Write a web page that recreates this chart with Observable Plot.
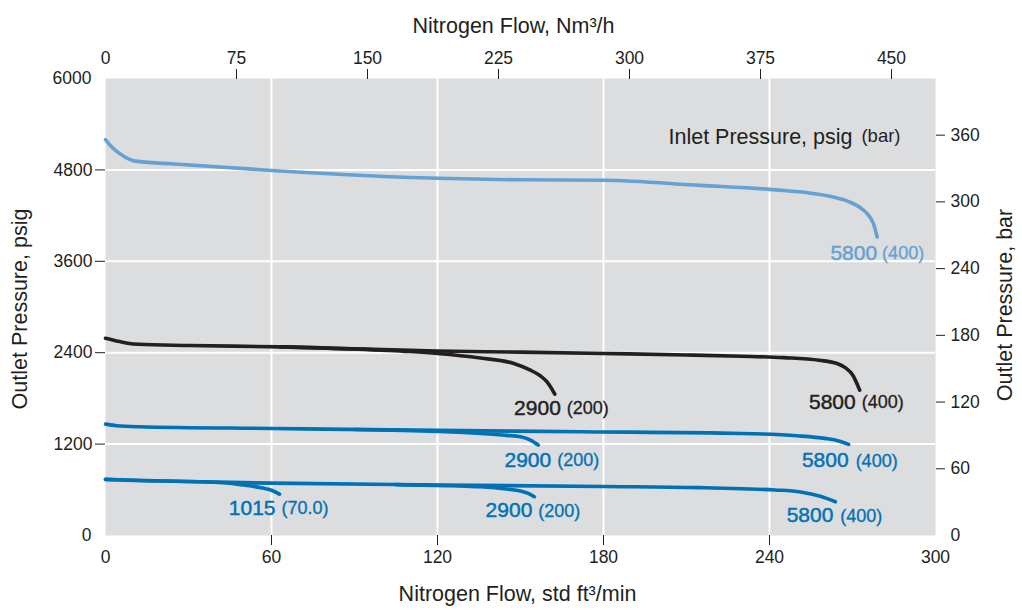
<!DOCTYPE html>
<html><head><meta charset="utf-8">
<script src="https://cdn.jsdelivr.net/npm/d3@7"></script>
<script src="https://cdn.jsdelivr.net/npm/@observablehq/plot@0.6"></script>
<style>html,body{margin:0;padding:0;background:#fff;} svg{display:block}</style>
</head><body><div id="chart"></div>
<script>
// ---- data: flow (std ft3/min) and outlet pressure (psig) ----
const light5800Flow = [0,1.5,3.6,7,10.8,23.5,60,120,150,180,215,240,263,269,273,275.3,277.5,278.9];
const light5800Psig = [5196,5130,5056,4970,4915,4881,4793,4690,4670,4665,4597,4544,4443,4378,4300,4225,4100,3919];

const black5800Flow = [0,4,8,12,30,63,100,120,150,180,210,230,245,258,264.4,267.5,270,272.6];
const black5800Psig = [2590,2555,2525,2510,2495,2476,2440,2422,2408,2390,2370,2354,2335,2300,2258,2200,2110,1908];

const black2900Flow = [63,90,110,120,135.5,147.6,153.6,157,159.6,162.4];
const black2900Psig = [2476,2448,2415,2390,2330,2258,2170,2100,2017,1856];

const blueA5800Flow = [0,4,12,60,120,172,230,250,260,265,268.6];
const blueA5800Psig = [1462,1442,1428,1405,1380,1362,1340,1310,1275,1242,1196];

const blueA2900Flow = [90,120,135.5,145,150,153.6,156.4];
const blueA2900Psig = [1392,1366,1340,1315,1296,1252,1187];

const blueB5800Flow = [0,5,34,60,120,180,215,230,242,251.2,258.4,263.8];
const blueB5800Psig = [737,728,706,687,664,643,628,614,598,572,515,443];

const blueB2900Flow = [105,125,135.5,145,150,153,155];
const blueB2900Psig = [668,654,640,610,584,550,509];

const blue1015Flow = [0,15,34,44,50,54,57.2,60,62.9];
const blue1015Psig = [737,722,706,690,662,642,619,595,544];

const inletPsig = ["5800","5800","2900","5800","2900","5800","2900","1015"];
const inletBar  = ["(400)","(400)","(200)","(400)","(200)","(400)","(200)","(70.0)"];

const bottomTicks = [0,60,120,180,240,300];       // std ft3/min
const topTicks    = [0,75,150,225,300,375,450];    // Nm3/h
const leftTicks   = [0,1200,2400,3600,4800,6000];  // psig
const rightTicks  = [0,60,120,180,240,300,360];    // bar

const NM3H_PER_SCFM = 1.584;  // as drawn on the top axis
const PSI_PER_BAR = 14.6;     // as drawn on the right axis

// ---- styles ----
const LIGHT = "#66a1d3", BLUE = "#0071b4", BLACK = "#231f20", BG = "#dcdddf";
const FONT = "Liberation Sans, Arial, Helvetica, sans-serif";

const seriesDefs = [
  {flow: light5800Flow, psig: light5800Psig, color: LIGHT, i: 0, dxN: 0,  dxB: 5,  dy: 16},
  {flow: black5800Flow, psig: black5800Psig, color: BLACK, i: 1, dxN: -4, dxB: 2,  dy: 12},
  {flow: black2900Flow, psig: black2900Psig, color: BLACK, i: 2, dxN: 6,  dxB: 12, dy: 14},
  {flow: blueA5800Flow, psig: blueA5800Psig, color: BLUE,  i: 3, dxN: 0,  dxB: 7,  dy: 16},
  {flow: blueA2900Flow, psig: blueA2900Psig, color: BLUE,  i: 4, dxN: 13, dxB: 19, dy: 15},
  {flow: blueB5800Flow, psig: blueB5800Psig, color: BLUE,  i: 5, dxN: -2, dxB: 5,  dy: 14},
  {flow: blueB2900Flow, psig: blueB2900Psig, color: BLUE,  i: 6, dxN: -2, dxB: 4,  dy: 14},
  {flow: blue1015Flow,  psig: blue1015Psig,  color: BLUE,  i: 7, dxN: -4, dxB: 2,  dy: 14}
];

const fmt = d => String(Math.round(d));

const marks = [
  Plot.frame({fill: BG, stroke: "none"}),
  Plot.gridX(bottomTicks.slice(1, -1), {stroke: "white", strokeOpacity: 1, strokeWidth: 2}),
  Plot.gridY(leftTicks.slice(1, -1), {stroke: "white", strokeOpacity: 1, strokeWidth: 2}),
  // bottom axis
  Plot.axisX(bottomTicks.slice(1, -1), {anchor: "bottom", tickSize: 10, tickPadding: 5, label: null, tickFormat: fmt}),
  Plot.axisX([bottomTicks[0], bottomTicks[bottomTicks.length - 1]], {anchor: "bottom", tickSize: 0, tickPadding: 15, label: null, tickFormat: fmt}),
  // top axis (Nm3/h)
  Plot.axisX(topTicks.slice(1).map(v => v / NM3H_PER_SCFM), {anchor: "top", tickSize: 10, tickPadding: 5, label: null, tickFormat: d => fmt(d * NM3H_PER_SCFM)}),
  Plot.axisX([topTicks[0]], {anchor: "top", tickSize: 0, tickPadding: 15, label: null, tickFormat: fmt}),
  // left axis
  Plot.axisY(leftTicks.slice(1, -1), {anchor: "left", tickSize: 10, tickPadding: 3, label: null, tickFormat: fmt}),
  Plot.axisY([leftTicks[0], leftTicks[leftTicks.length - 1]], {anchor: "left", tickSize: 0, tickPadding: 14, label: null, tickFormat: fmt}),
  // right axis (bar)
  Plot.axisY(rightTicks.slice(1).map(b => b * PSI_PER_BAR), {anchor: "right", tickSize: 9, tickPadding: 6, label: null, tickFormat: d => fmt(d / PSI_PER_BAR)}),
  Plot.axisY([rightTicks[0]], {anchor: "right", tickSize: 0, tickPadding: 15, label: null, tickFormat: fmt}),
];

for (const s of seriesDefs) {
  const pts = s.flow.map((x, k) => ({x, y: s.psig[k]}));
  marks.push(Plot.line(pts, {x: "x", y: "y", stroke: s.color, strokeWidth: 3.6, curve: "monotone-x", strokeLinecap: "round"}));
}
for (const s of seriesDefs) {
  const end = [{x: s.flow[s.flow.length - 1], y: s.psig[s.psig.length - 1]}];
  marks.push(Plot.text(end, {x: "x", y: "y", text: () => inletPsig[s.i], textAnchor: "end", dx: s.dxN, dy: s.dy, fill: s.color, fontSize: 21, stroke: s.color, strokeWidth: 0.45}));
  marks.push(Plot.text(end, {x: "x", y: "y", text: () => inletBar[s.i], textAnchor: "start", dx: s.dxB, dy: s.dy + 0.5, fill: s.color, fontSize: 18, stroke: s.color, strokeWidth: 0.3}));
}
// legend heading
marks.push(Plot.text(["Inlet Pressure, psig"], {frameAnchor: "top-right", text: d => d, textAnchor: "end", dx: -83, dy: 50, fontSize: 21.5, fill: BLACK}));
marks.push(Plot.text(["(bar)"], {frameAnchor: "top-right", text: d => d, textAnchor: "end", dx: -35, dy: 50.5, fontSize: 18.5, fill: BLACK}));
// axis titles
marks.push(Plot.text(["Nitrogen Flow, std ft³/min"], {frameAnchor: "bottom", text: d => d, textAnchor: "middle", dx: -3, dy: 65, fontSize: 21.5, fill: BLACK}));
marks.push(Plot.text(["Nitrogen Flow, Nm³/h"], {frameAnchor: "top", text: d => d, textAnchor: "middle", dx: -7, dy: -61, fontSize: 21.5, fill: BLACK}));
marks.push(Plot.text(["Outlet Pressure, psig"], {frameAnchor: "left", text: d => d, textAnchor: "middle", rotate: -90, dx: -85, dy: 2, fontSize: 21.5, fill: BLACK}));
marks.push(Plot.text(["Outlet Pressure, bar"], {frameAnchor: "right", text: d => d, textAnchor: "middle", rotate: -90, dx: 70, dy: -2, fontSize: 21.5, fill: BLACK}));

const chart = Plot.plot({
  width: 1022, height: 610,
  marginLeft: 105, marginRight: 87, marginTop: 78, marginBottom: 75,
  x: {domain: [0, 300], label: null},
  y: {domain: [0, 6000], label: null},
  style: {fontFamily: FONT, fontSize: "17.5px", color: BLACK, background: "white", overflow: "visible"},
  marks
});
document.getElementById("chart").append(chart);
</script></body></html>
